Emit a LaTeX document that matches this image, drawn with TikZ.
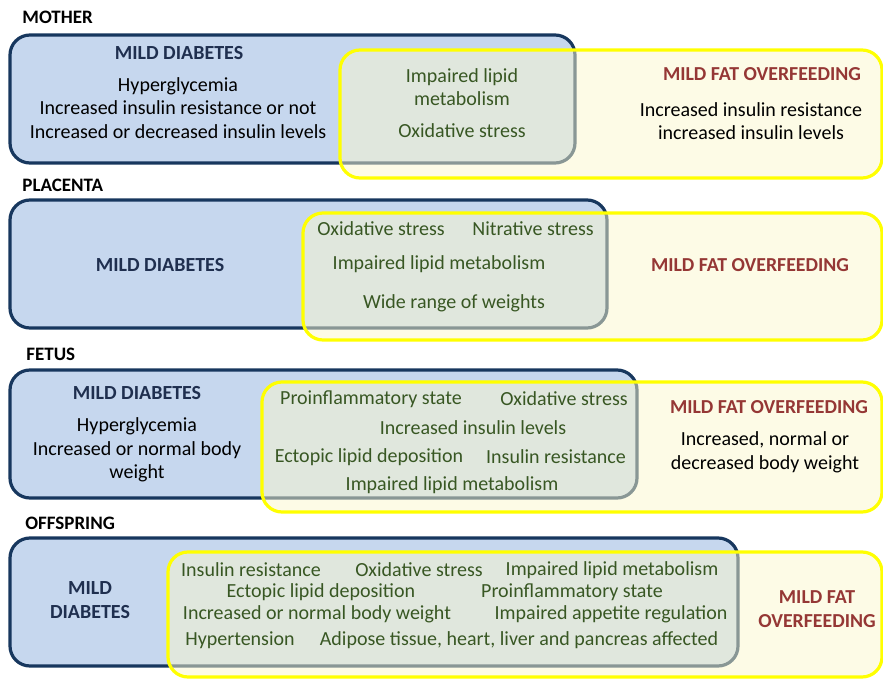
\documentclass[tikz,border=0pt]{standalone}
\usepackage{fontspec}
\setmainfont{Carlito}
\usetikzlibrary{positioning}
\definecolor{diafill}{HTML}{C6D7EE}
\definecolor{dialine}{HTML}{17375E}
\definecolor{fatfill}{HTML}{FBF7CD}
\definecolor{fatline}{HTML}{FFFF00}
\definecolor{commtext}{HTML}{385723}
\definecolor{fattext}{HTML}{953735}
\definecolor{diatext}{HTML}{1F2F4F}

\begin{document}
\begin{tikzpicture}[x=0.5pt,y=-0.5pt,
  diabox/.style={draw=dialine, fill=diafill, line width=1.6pt, rounded corners=10pt},
  fatbox/.style={draw=fatline, line width=1.6pt, rounded corners=10pt, fill=fatfill, fill opacity=0.5},
  stage/.style={anchor=west, inner sep=0pt, font=\bfseries\fontsize{9.5}{11}\selectfont},
  diatitle/.style={inner sep=0pt, text=diatext, align=center, font=\bfseries\fontsize{10}{11.8}\selectfont},
  fattitle/.style={inner sep=0pt, text=fattext, align=center, font=\bfseries\fontsize{9.9}{11.8}\selectfont},
  plain/.style={inner sep=0pt, align=center, font=\fontsize{10}{11.8}\selectfont},
  common/.style={plain, text=commtext}]
\useasboundingbox (0,0) rectangle (883,679);

% mother
\node[stage] (mother) at (22,17) {MOTHER};
\draw[diabox] (10,35) rectangle (575,163);
\draw[fatbox] (340,50) rectangle (882,178);
\node[diatitle] (md1) at (179,53) {MILD DIABETES};
\node[plain] (md1txt) at (178,108) {Hyperglycemia\\Increased insulin resistance or not\\Increased or decreased insulin levels};
\node[common] (mc1) at (462,87) {Impaired lipid\\metabolism};
\node[common] (mc2) at (462,131) {Oxidative stress};
\node[fattitle] (mf1) at (762,74) {MILD FAT OVERFEEDING};
\node[plain] (mf1txt) at (751,121) {Increased insulin resistance\\increased insulin levels};

% placenta
\node[stage] (placenta) at (22,185) {PLACENTA};
\draw[diabox] (10,200) rectangle (607,328);
\draw[fatbox] (303,213) rectangle (882,340);
\node[diatitle] (md2) at (160,265) {MILD DIABETES};
\node[common] (pc1) at (381,229) {Oxidative stress};
\node[common] (pc2) at (533,229) {Nitrative stress};
\node[common] (pc3) at (439,264) {Impaired lipid metabolism};
\node[common] (pc4) at (454,303) {Wide range of weights};
\node[fattitle] (mf2) at (750,265) {MILD FAT OVERFEEDING};

% fetus
\node[stage] (fetus) at (26,354) {FETUS};
\draw[diabox] (10,370) rectangle (637,498);
\draw[fatbox] (262,382) rectangle (882,512);
\node[diatitle] (md3) at (137,393) {MILD DIABETES};
\node[plain] (md3txt) at (137,450) {Hyperglycemia\\Increased or normal body\\weight};
\node[common] (fc1) at (371,399) {Proinflammatory state};
\node[common] (fc2) at (564,399) {Oxidative stress};
\node[common] (fc3) at (473,428) {Increased insulin levels};
\node[common] (fc4) at (369,457) {Ectopic lipid deposition};
\node[common] (fc5) at (556,457) {Insulin resistance};
\node[common] (fc6) at (452,485) {Impaired lipid metabolism};
\node[fattitle] (mf3) at (769,407) {MILD FAT OVERFEEDING};
\node[plain] (mf3txt) at (765,452) {Increased, normal or\\decreased body weight};

% offspring
\node[stage] (offspring) at (25,523) {OFFSPRING};
\draw[diabox] (10,538) rectangle (738,666);
\draw[fatbox] (168,552) rectangle (882,677);
\node[diatitle] (md4) at (90,600) {MILD\\DIABETES};
\node[common] (oc1) at (251,570) {Insulin resistance};
\node[common] (oc2) at (419,570) {Oxidative stress};
\node[common] (oc3) at (612,570) {Impaired lipid metabolism};
\node[common] (oc4) at (321,592) {Ectopic lipid deposition};
\node[common] (oc5) at (572,592) {Proinflammatory state};
\node[common] (oc6) at (317,614) {Increased or normal body weight};
\node[common] (oc7) at (611,614) {Impaired appetite regulation};
\node[common] (oc8) at (240,640) {Hypertension};
\node[common] (oc9) at (519,640) {Adipose tissue, heart, liver and pancreas affected};
\node[fattitle] (mf4) at (817,609) {MILD FAT\\OVERFEEDING};
\end{tikzpicture}
\end{document}
